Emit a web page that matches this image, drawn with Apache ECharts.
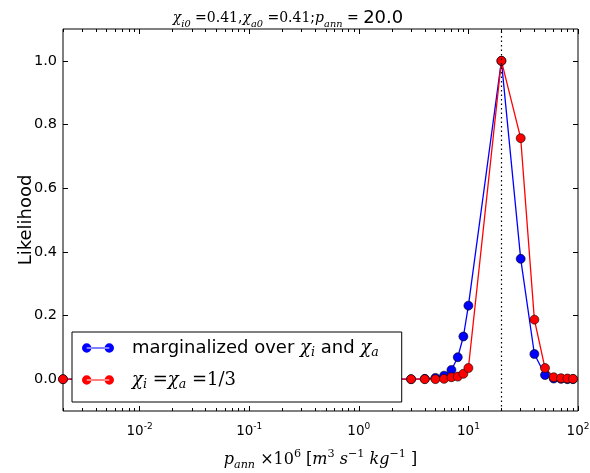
<!DOCTYPE html>
<html>
<head>
<meta charset="utf-8">
<script src="https://cdn.jsdelivr.net/npm/echarts@6/dist/echarts.min.js"></script>
<style>
  html, body { margin: 0; background: #fff; }
  #chart { width: 590px; height: 473px; }
</style>
</head>
<body>
<div id="chart"></div>
<script>
// p_ann grid (x 10^6 m^3 s^-1 kg^-1) and the two likelihood curves
const pAnn = [0.002, 3, 4, 5, 6, 7, 8, 9, 10, 20, 30, 40, 50, 60, 70, 80, 90];
const likeMarginal = [0, 0, 0.001, 0.004, 0.011, 0.029, 0.069, 0.134, 0.231, 1.0, 0.378, 0.079, 0.013, 0.002, 0.001, 0, 0];
const likeFixed = [0, 0, 0, 0, 0.001, 0.006, 0.008, 0.017, 0.035, 1.0, 0.757, 0.187, 0.035, 0.006, 0.003, 0.002, 0.001];
const trueP = 20;

const xMajorTicks = [0.01, 0.1, 1, 10, 100];
const yTicks = [0, 0.2, 0.4, 0.6, 0.8, 1.0];

// minor log ticks 2..9 x 10^k inside the axis range
const xMinorTicks = [];
for (let k = -3; k <= 1; k++) {
  for (let m = 2; m <= 9; m++) {
    const v = +(m * Math.pow(10, k)).toPrecision(3);
    if (v >= 0.002 && v <= 100) xMinorTicks.push(v);
  }
}

const serif = "DejaVu Serif";
const sans = "DejaVu Sans";

const mathRich = (size) => ({
  m: { fontFamily: serif, fontStyle: "italic", fontWeight: "normal", fontSize: size, lineHeight: 22, color: "#000" },
  r: { fontFamily: serif, fontWeight: "normal", fontSize: size, lineHeight: 22, color: "#000" },
  sb: { fontFamily: serif, fontStyle: "italic", fontWeight: "normal", fontSize: size * 0.7, lineHeight: 13, verticalAlign: "bottom", color: "#000" },
  sp: { fontFamily: serif, fontWeight: "normal", fontSize: size * 0.7, lineHeight: 12, verticalAlign: "top", color: "#000" },
  t: { fontFamily: sans, fontWeight: "normal", fontSize: size, lineHeight: 22, color: "#000" },
  n: { fontFamily: sans, fontWeight: "normal", fontSize: 18, lineHeight: 22, color: "#000" },
  g: { width: 13 },
});

const legendIcon =
  "path://M0,5a5,5 0 1,0 10,0a5,5 0 1,0 -10,0Z M24,5a5,5 0 1,0 10,0a5,5 0 1,0 -10,0Z M5,4.4L29,4.4L29,5.6L5,5.6Z";

const chart = echarts.init(document.getElementById("chart"));

const logAxis = (extra) =>
  Object.assign(
    {
      type: "log",
      logBase: 10,
      min: 0.002,
      max: 100,
      axisLine: { show: false, onZero: false },
      splitLine: { show: false },
      axisLabel: { show: false },
    },
    extra
  );

const option = {
  animation: false,
  backgroundColor: "#fff",
  title: {
    text: "{m|χ}{sb|i0}{r| =0.41,}{m|χ}{sb|a0}{r| =0.41;}{m|p}{sb|ann}{r| = }{n|20.0}",
    left: 283,
    textAlign: "center",
    top: 2,
    textStyle: { fontWeight: "normal", rich: mathRich(14) },
  },
  grid: {
    left: 63,
    right: 12,
    top: 29,
    bottom: 62,
    outerBoundsMode: "none",
    show: true,
    borderColor: "#000",
    borderWidth: 1,
    backgroundColor: "transparent",
  },
  legend: {
    orient: "vertical",
    left: 72,
    top: 332,
    z: 10,
    padding: [7, 23, 11, 10],
    itemGap: 12,
    itemWidth: 32,
    itemHeight: 10,
    borderColor: "#000",
    borderWidth: 1,
    borderRadius: 0,
    backgroundColor: "#fff",
    itemStyle: { borderWidth: 0 },
    data: [
      { name: "marginal", icon: legendIcon },
      { name: "fixed", icon: legendIcon },
    ],
    formatter: (name) =>
      name === "marginal"
        ? "{g| }{t|marginalized over }{m|χ}{sb|i}{t| and }{m|χ}{sb|a}"
        : "{g| }{m|χ}{sb|i}{r| =}{m|χ}{sb|a}{r| =1/3}",
    textStyle: { rich: mathRich(18) },
  },
  xAxis: [
    logAxis({
      position: "bottom",
      name: "{m|p}{sb|ann}{r| ×10}{sp|6}{r| [}{m|m}{sp|3}{m| s}{sp|−1}{m| kg}{sp|−1}{r| ]}",
      nameLocation: "middle",
      nameGap: 38,
      nameTextStyle: { rich: mathRich(16) },
      axisTick: { show: true, inside: true, length: 5, customValues: xMajorTicks, lineStyle: { color: "#000" } },
      axisLabel: {
        show: true,
        margin: 11,
        customValues: xMajorTicks,
        formatter: (v) => "{b|10}{s|" + Math.round(Math.log10(v)) + "}",
        rich: {
          b: { fontFamily: sans, fontSize: 13.5, lineHeight: 18, color: "#000" },
          s: { fontFamily: sans, fontSize: 9, lineHeight: 10, verticalAlign: "top", color: "#000" },
        },
      },
    }),
    logAxis({
      position: "bottom",
      axisTick: { show: true, inside: true, length: 3, customValues: xMinorTicks, lineStyle: { color: "#000" } },
    }),
    logAxis({
      position: "top",
      axisTick: { show: true, inside: true, length: 5, customValues: xMajorTicks, lineStyle: { color: "#000" } },
    }),
    logAxis({
      position: "top",
      axisTick: { show: true, inside: true, length: 3, customValues: xMinorTicks, lineStyle: { color: "#000" } },
    }),
  ],
  yAxis: [
    {
      type: "value",
      min: -0.1,
      max: 1.1,
      position: "left",
      name: "Likelihood",
      nameLocation: "middle",
      nameGap: 28,
      nameMoveOverlap: false,
      nameRotate: 90,
      nameTextStyle: { fontFamily: sans, fontSize: 18, color: "#000" },
      axisLine: { show: false, onZero: false },
      splitLine: { show: false },
      axisTick: { show: true, inside: true, length: 5, customValues: yTicks, lineStyle: { color: "#000" } },
      axisLabel: {
        margin: 6,
        customValues: yTicks,
        formatter: (v) => v.toFixed(1),
        fontFamily: sans,
        fontSize: 14.5,
        color: "#000",
      },
    },
    {
      type: "value",
      min: -0.1,
      max: 1.1,
      position: "right",
      axisLine: { show: false, onZero: false },
      splitLine: { show: false },
      axisLabel: { show: false },
      axisTick: { show: true, inside: true, length: 5, customValues: yTicks, lineStyle: { color: "#000" } },
    },
  ],
  series: [
    {
      name: "marginal",
      type: "line",
      data: pAnn.map((p, i) => [p, likeMarginal[i]]),
      symbol: "circle",
      symbolSize: 9,
      lineStyle: { color: "#0000ff", width: 1.3 },
      itemStyle: { color: "#0000ff", borderColor: "#000", borderWidth: 0.6 },
      markLine: {
        silent: true,
        symbol: "none",
        label: { show: false },
        lineStyle: { color: "#000", width: 1.2, type: [1.5, 3] },
        data: [{ xAxis: trueP }],
      },
    },
    {
      name: "fixed",
      type: "line",
      data: pAnn.map((p, i) => [p, likeFixed[i]]),
      symbol: "circle",
      symbolSize: 9,
      lineStyle: { color: "#ff0000", width: 1.3 },
      itemStyle: { color: "#ff0000", borderColor: "#000", borderWidth: 0.6 },
    },
  ],
};

chart.setOption(option);
</script>
</body>
</html>
